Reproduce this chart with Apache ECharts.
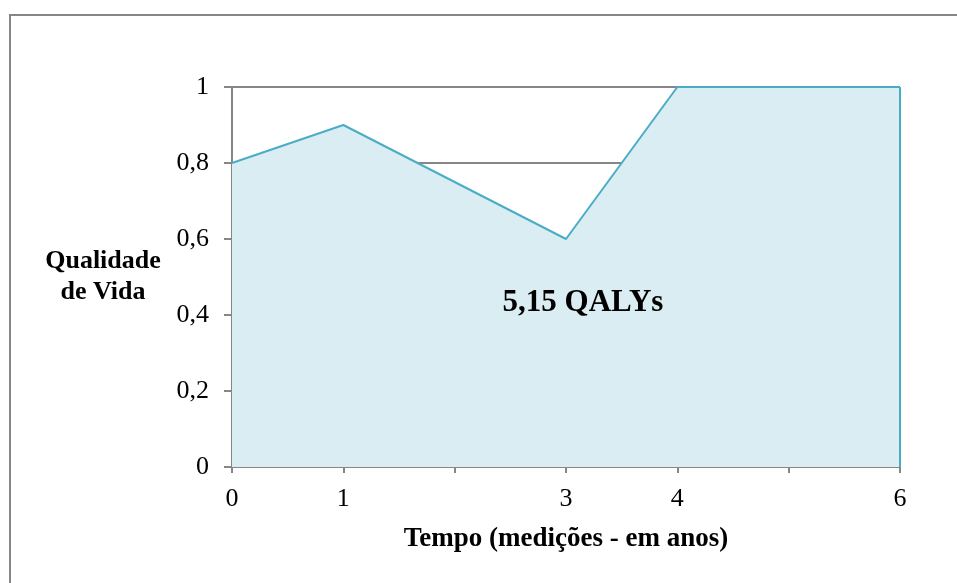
<!DOCTYPE html>
<html>
<head>
<meta charset="utf-8">
<script src="https://cdn.jsdelivr.net/npm/echarts@6/dist/echarts.min.js"></script>
<style>html,body{margin:0;padding:0;background:#fff;}#c{width:957px;height:583px;}</style>
</head>
<body>
<div id="c"></div>
<script>
const years = [0, 1, 3, 4, 6];
const quality = [0.8, 0.9, 0.6, 1, 1];
const xTickLabels = [0, 1, 3, 4, 6];
const xAxisTitle = 'Tempo (medições - em anos)';
const yAxisTitle = 'Qualidade\nde Vida';
const areaLabel = '5,15 QALYs';

const chart = echarts.init(document.getElementById('c'), null, {renderer: 'canvas'});
const pts = years.map((x, i) => [x, quality[i]]);
const lastX = years[years.length - 1];
const lastY = quality[quality.length - 1];
const FONT = '"Liberation Serif", "Times New Roman", serif';
const GREY = '#868686';
const TEAL = '#4BACC6';

chart.setOption({
  animation: false,
  backgroundColor: '#fff',
  grid: {left: 232, right: 57, top: 87, bottom: 116},
  xAxis: {
    type: 'value', min: 0, max: 6, interval: 1,
    name: xAxisTitle, nameLocation: 'middle', nameGap: 59,
    nameTextStyle: {fontFamily: FONT, fontSize: 27, fontWeight: 'bold', color: '#000'},
    axisLine: {show: true, lineStyle: {color: GREY, width: 2}},
    axisTick: {show: true, inside: false, length: 6, lineStyle: {color: GREY, width: 2}},
    axisLabel: {
      margin: 19, fontFamily: FONT, fontSize: 26, color: '#000',
      formatter: v => xTickLabels.includes(v) ? String(v) : ''
    },
    splitLine: {show: false}
  },
  yAxis: {
    type: 'value', min: 0, max: 1, interval: 0.2,
    name: yAxisTitle, nameLocation: 'middle', nameGap: 129, nameRotate: 0,
    nameTextStyle: {fontFamily: FONT, fontSize: 26, fontWeight: 'bold', color: '#000', align: 'center', lineHeight: 31},
    axisLine: {show: true, lineStyle: {color: GREY, width: 2}},
    axisTick: {show: true, inside: false, length: 8, lineStyle: {color: GREY, width: 2}},
    axisLabel: {
      margin: 23, fontFamily: FONT, fontSize: 26, color: '#000',
      formatter: v => String(+v.toFixed(1)).replace('.', ',')
    },
    splitLine: {show: true, lineStyle: {color: GREY, width: 2}}
  },
  series: [
    {
      type: 'line', data: pts, symbol: 'none', z: 3,
      lineStyle: {color: TEAL, width: 2},
      areaStyle: {color: '#DAEDF3', opacity: 1}
    },
    {
      type: 'line', data: [[lastX, 0], [lastX, lastY]], symbol: 'none', z: 4,
      lineStyle: {color: TEAL, width: 2}
    }
  ],
  graphic: [
    {
      type: 'rect', x: 10, y: 15, silent: true,
      shape: {x: 0, y: 0, width: 980, height: 620},
      style: {fill: 'none', stroke: GREY, lineWidth: 2}
    },
    {
      type: 'text', x: 583, y: 303, z: 10,
      style: {text: areaLabel, fontFamily: FONT, fontSize: 31, fontWeight: 'bold', fill: '#000', align: 'center', verticalAlign: 'middle'}
    }
  ]
});
</script>
</body>
</html>
